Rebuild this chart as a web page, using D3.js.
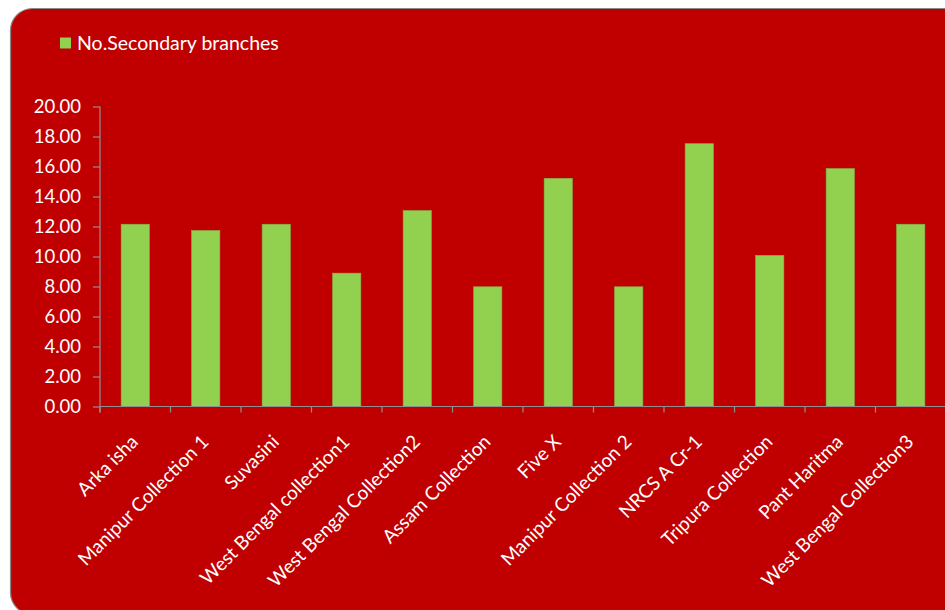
<!DOCTYPE html>
<html>
<head>
<meta charset="utf-8">
<script src="https://cdn.jsdelivr.net/npm/d3@7"></script>
<style>
  html, body { margin: 0; padding: 0; background: #ffffff; }
  svg { display: block; }
</style>
</head>
<body>
<svg id="chart" width="945" height="610"></svg>
<script>
// Number of secondary branches per accession
const categories = [
  "Arka isha", "Manipur Collection 1", "Suvasini", "West Bengal collection1",
  "West Bengal Collection2", "Assam Collection", "Five X", "Manipur Collection 2",
  "NRCS A Cr-1", "Tripura Collection", "Pant Haritma", "West Bengal Collection3"
];
const secondaryBranches = [12.15, 11.73, 12.15, 8.89, 13.06, 7.98, 15.21, 7.98, 17.52, 10.07, 15.86, 12.15];
const seriesName = "No.Secondary branches";
const yTicks = [0, 2, 4, 6, 8, 10, 12, 14, 16, 18, 20];

const W = 945, H = 610;
const FONT = "Lato, 'Open Sans', sans-serif";
const RED = "#c00000", GREEN = "#92d050", AXIS = "#8f8f8f";

const svg = d3.select("#chart");

// rounded panel behind the chart
svg.append("rect")
  .attr("x", 10.5).attr("y", 8.5)
  .attr("width", 960).attr("height", 606)
  .attr("rx", 22).attr("ry", 22)
  .attr("fill", RED)
  .attr("stroke", "#8a8a8a").attr("stroke-width", 1.2);

const margin = { left: 100, top: 106.5, bottom: 406.5 };
const x = d3.scaleBand()
  .domain(categories)
  .range([margin.left, margin.left + 70.5 * categories.length])
  .paddingInner(0.6).paddingOuter(0.3);
const y = d3.scaleLinear().domain([0, 20]).range([margin.bottom, margin.top]);

// bars
svg.append("g").selectAll("rect")
  .data(categories)
  .join("rect")
  .attr("x", d => x(d))
  .attr("y", (d, i) => y(secondaryBranches[i]))
  .attr("width", x.bandwidth())
  .attr("height", (d, i) => y(0) - y(secondaryBranches[i]))
  .attr("fill", GREEN)
  .attr("stroke", "#86b846").attr("stroke-width", 0.6);

// y axis
const yAxis = svg.append("g")
  .attr("transform", `translate(${margin.left},0)`)
  .call(d3.axisLeft(y).tickValues(yTicks).tickFormat(d3.format(".2f")).tickSize(7).tickPadding(12));
yAxis.select(".domain").attr("stroke", AXIS).attr("stroke-width", 1.2).attr("d", `M0,${margin.top}V${margin.bottom + 6}`);
yAxis.selectAll(".tick line").attr("stroke", AXIS).attr("stroke-width", 1.2);
yAxis.selectAll(".tick text")
  .attr("fill", "#ffffff").attr("font-family", FONT).attr("font-size", 18.5);

// x axis: ticks sit on band boundaries
const step = x.step();
const bounds = d3.range(categories.length + 1).map(i => margin.left + i * step);
const xAxis = svg.append("g");
xAxis.append("line")
  .attr("x1", margin.left).attr("x2", W + 2)
  .attr("y1", margin.bottom).attr("y2", margin.bottom)
  .attr("stroke", AXIS).attr("stroke-width", 1.2);
xAxis.selectAll("line.tick")
  .data(bounds)
  .join("line").attr("class", "tick")
  .attr("x1", d => d).attr("x2", d => d)
  .attr("y1", margin.bottom).attr("y2", margin.bottom + 6)
  .attr("stroke", AXIS).attr("stroke-width", 1.2);

xAxis.selectAll("text")
  .data(categories)
  .join("text")
  .attr("transform", d => `translate(${x(d) + x.bandwidth() / 2 + 4},443) rotate(-45)`)
  .attr("text-anchor", "end")
  .attr("fill", "#ffffff")
  .attr("font-family", FONT).attr("font-size", 19)
  .text(d => d);

// legend
const legend = svg.append("g");
legend.append("rect")
  .attr("x", 60).attr("y", 37.5).attr("width", 11).attr("height", 11)
  .attr("fill", GREEN);
legend.append("text")
  .attr("x", 77).attr("y", 49.5)
  .attr("fill", "#ffffff").attr("font-family", FONT).attr("font-size", 19.5)
  .text(seriesName);
</script>
</body>
</html>
